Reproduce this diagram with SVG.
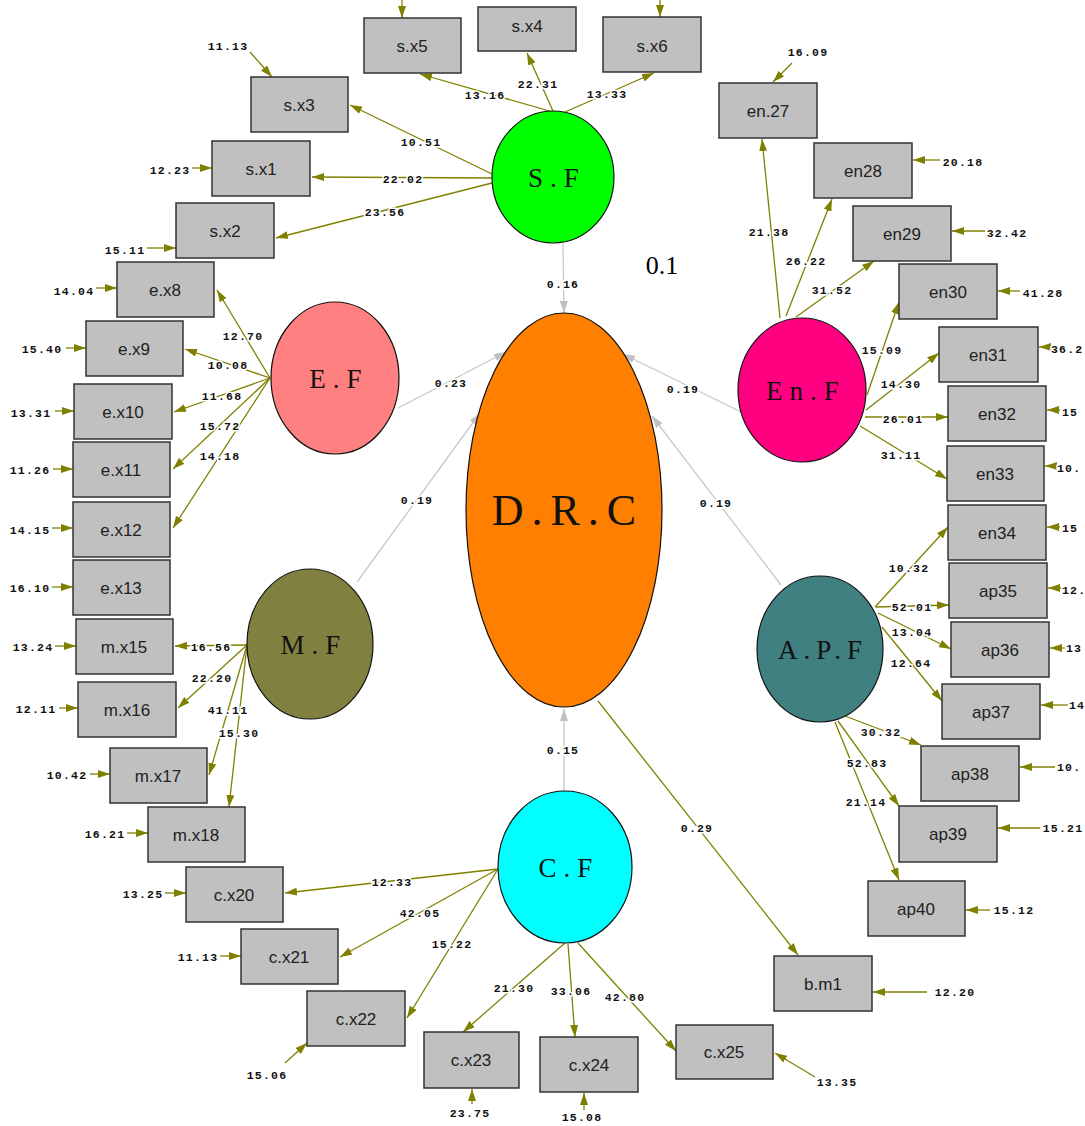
<svg xmlns="http://www.w3.org/2000/svg" width="1085" height="1126" viewBox="0 0 1085 1126">
<style>
.bx{fill:#c0c0c0;stroke:#333;stroke-width:1.5}
.bt{font-family:"Liberation Sans",Arial,sans-serif;font-size:17px;fill:#222;text-anchor:middle}
.lt{font-family:"Liberation Serif","Times New Roman",serif;fill:#111;text-anchor:middle}
.ln{stroke:#808000;stroke-width:1.3;fill:none;marker-end:url(#a)}
.gl{stroke:#c8c8c8;stroke-width:1.3;fill:none;marker-end:url(#g)}
.n{font-family:"Liberation Mono","DejaVu Sans Mono",monospace;font-size:11.5px;font-weight:bold;letter-spacing:1.2px;fill:#111;text-anchor:middle;paint-order:stroke;stroke:#fff;stroke-width:3px}
.ns{text-anchor:start}
.lat{stroke:#111;stroke-width:1.2}
</style>
<defs>
<marker id="a" viewBox="0 0 12 8" refX="12" refY="4" markerWidth="12" markerHeight="8" markerUnits="userSpaceOnUse" orient="auto"><path d="M0,0 L12,4 L0,8 z" fill="#808000"/></marker>
<marker id="g" viewBox="0 0 12 8" refX="12" refY="4" markerWidth="12" markerHeight="8" markerUnits="userSpaceOnUse" orient="auto"><path d="M0,0 L12,4 L0,8 z" fill="#c0c0c0"/></marker>
</defs>
<rect width="1085" height="1126" fill="#fff"/>

<g id="connectors">
<line class="gl" x1="563" y1="243" x2="564" y2="313"/>
<line class="gl" x1="398" y1="408" x2="506" y2="352"/>
<line class="gl" x1="357" y1="582" x2="480" y2="413"/>
<line class="gl" x1="741" y1="412" x2="623" y2="354"/>
<line class="gl" x1="781" y1="585" x2="652" y2="416"/>
<line class="gl" x1="564" y1="792" x2="564" y2="709"/>
<line class="ln" x1="598" y1="701" x2="798" y2="955"/>
<line class="ln" x1="553" y1="112" x2="420" y2="74"/>
<line class="ln" x1="553" y1="111" x2="527" y2="53"/>
<line class="ln" x1="565" y1="112" x2="654" y2="73"/>
<line class="ln" x1="492" y1="174" x2="350" y2="105"/>
<line class="ln" x1="492" y1="178" x2="312" y2="177"/>
<line class="ln" x1="492" y1="183" x2="276" y2="238"/>
<line class="ln" x1="270" y1="378" x2="217" y2="290"/>
<line class="ln" x1="270" y1="378" x2="185" y2="349"/>
<line class="ln" x1="270" y1="378" x2="174" y2="412"/>
<line class="ln" x1="270" y1="378" x2="173" y2="469"/>
<line class="ln" x1="270" y1="378" x2="173" y2="528"/>
<line class="ln" x1="247" y1="645" x2="175" y2="646"/>
<line class="ln" x1="247" y1="645" x2="178" y2="708"/>
<line class="ln" x1="247" y1="645" x2="209" y2="775"/>
<line class="ln" x1="247" y1="645" x2="229" y2="807"/>
<line class="ln" x1="498" y1="869" x2="285" y2="893"/>
<line class="ln" x1="498" y1="869" x2="340" y2="957"/>
<line class="ln" x1="498" y1="869" x2="407" y2="1018"/>
<line class="ln" x1="565" y1="943" x2="463" y2="1032"/>
<line class="ln" x1="568" y1="944" x2="575" y2="1037"/>
<line class="ln" x1="578" y1="943" x2="676" y2="1051"/>
<line class="ln" x1="780" y1="318" x2="762" y2="139"/>
<line class="ln" x1="786" y1="316" x2="832" y2="199"/>
<line class="ln" x1="796" y1="317" x2="874" y2="261"/>
<line class="ln" x1="867" y1="395" x2="899" y2="302"/>
<line class="ln" x1="866" y1="410" x2="939" y2="353"/>
<line class="ln" x1="865" y1="417" x2="948" y2="417"/>
<line class="ln" x1="860" y1="426" x2="947" y2="479"/>
<line class="ln" x1="875" y1="607" x2="948" y2="527"/>
<line class="ln" x1="876" y1="607" x2="949" y2="605"/>
<line class="ln" x1="878" y1="613" x2="951" y2="649"/>
<line class="ln" x1="882" y1="627" x2="942" y2="701"/>
<line class="ln" x1="845" y1="716" x2="921" y2="745"/>
<line class="ln" x1="838" y1="721" x2="899" y2="806"/>
<line class="ln" x1="835" y1="722" x2="899" y2="880"/>
<line class="ln" x1="402" y1="0" x2="402" y2="18"/>
<line class="ln" x1="660" y1="0" x2="660" y2="17"/>
<line class="ln" x1="250" y1="52" x2="272" y2="77"/>
<line class="ln" x1="192" y1="168" x2="212" y2="168"/>
<line class="ln" x1="147" y1="248" x2="176" y2="248"/>
<line class="ln" x1="96" y1="288" x2="117" y2="288"/>
<line class="ln" x1="66" y1="348" x2="86" y2="348"/>
<line class="ln" x1="55" y1="411" x2="74" y2="411"/>
<line class="ln" x1="53" y1="469" x2="73" y2="469"/>
<line class="ln" x1="52" y1="528" x2="73" y2="528"/>
<line class="ln" x1="52" y1="587" x2="73" y2="587"/>
<line class="ln" x1="55" y1="646" x2="76" y2="646"/>
<line class="ln" x1="59" y1="708" x2="78" y2="708"/>
<line class="ln" x1="90" y1="774" x2="110" y2="774"/>
<line class="ln" x1="127" y1="833" x2="148" y2="833"/>
<line class="ln" x1="165" y1="893" x2="186" y2="893"/>
<line class="ln" x1="220" y1="956" x2="241" y2="956"/>
<line class="ln" x1="285" y1="1063" x2="307" y2="1043"/>
<line class="ln" x1="472" y1="1104" x2="472" y2="1089"/>
<line class="ln" x1="584" y1="1110" x2="584" y2="1093"/>
<line class="ln" x1="815" y1="1077" x2="775" y2="1053"/>
<line class="ln" x1="927" y1="992" x2="873" y2="992"/>
<line class="ln" x1="990" y1="910" x2="966" y2="910"/>
<line class="ln" x1="1040" y1="828" x2="998" y2="828"/>
<line class="ln" x1="1055" y1="767" x2="1020" y2="767"/>
<line class="ln" x1="1068" y1="705" x2="1041" y2="705"/>
<line class="ln" x1="1065" y1="648" x2="1050" y2="648"/>
<line class="ln" x1="1061" y1="588" x2="1048" y2="588"/>
<line class="ln" x1="1060" y1="527" x2="1047" y2="527"/>
<line class="ln" x1="1056" y1="466" x2="1045" y2="466"/>
<line class="ln" x1="1060" y1="410" x2="1047" y2="410"/>
<line class="ln" x1="1050" y1="347" x2="1039" y2="347"/>
<line class="ln" x1="1020" y1="291" x2="998" y2="291"/>
<line class="ln" x1="985" y1="231" x2="952" y2="231"/>
<line class="ln" x1="940" y1="160" x2="913" y2="160"/>
<line class="ln" x1="792" y1="63" x2="773" y2="82"/>

<text class="n" x="563" y="288">0.16</text>
<text class="n" x="451" y="387">0.23</text>
<text class="n" x="417" y="504">0.19</text>
<text class="n" x="683" y="393">0.19</text>
<text class="n" x="716" y="507">0.19</text>
<text class="n" x="563" y="754">0.15</text>
<text class="n" x="697" y="832">0.29</text>
<text class="n" x="485" y="99">13.16</text>
<text class="n" x="538" y="88">22.31</text>
<text class="n" x="607" y="98">13.33</text>
<text class="n" x="421" y="146">10.51</text>
<text class="n" x="403" y="183">22.02</text>
<text class="n" x="385" y="216">23.56</text>
<text class="n" x="243" y="340">12.70</text>
<text class="n" x="228" y="369">10.08</text>
<text class="n" x="222" y="400">11.68</text>
<text class="n" x="220" y="430">15.72</text>
<text class="n" x="220" y="460">14.18</text>
<text class="n" x="211" y="651">16.56</text>
<text class="n" x="212" y="682">22.20</text>
<text class="n" x="228" y="714">41.11</text>
<text class="n" x="239" y="737">15.30</text>
<text class="n" x="392" y="886">12.33</text>
<text class="n" x="420" y="917">42.05</text>
<text class="n" x="452" y="948">15.22</text>
<text class="n" x="514" y="992">21.30</text>
<text class="n" x="571" y="995">33.06</text>
<text class="n" x="625" y="1001">42.80</text>
<text class="n" x="769" y="236">21.38</text>
<text class="n" x="806" y="265">26.22</text>
<text class="n" x="832" y="294">31.52</text>
<text class="n" x="882" y="354">15.09</text>
<text class="n" x="901" y="388">14.30</text>
<text class="n" x="903" y="423">26.01</text>
<text class="n" x="901" y="459">31.11</text>
<text class="n" x="909" y="572">10.32</text>
<text class="n" x="912" y="611">52.01</text>
<text class="n" x="912" y="636">13.04</text>
<text class="n" x="911" y="667">12.64</text>
<text class="n" x="881" y="736">30.32</text>
<text class="n" x="867" y="767">52.83</text>
<text class="n" x="866" y="806">21.14</text>
<text class="n" x="228" y="50">11.13</text>
<text class="n" x="170" y="174">12.23</text>
<text class="n" x="125" y="254">15.11</text>
<text class="n" x="74" y="295">14.04</text>
<text class="n" x="42" y="353">15.40</text>
<text class="n" x="31" y="417">13.31</text>
<text class="n" x="30" y="474">11.26</text>
<text class="n" x="30" y="534">14.15</text>
<text class="n" x="30" y="592">16.10</text>
<text class="n" x="33" y="651">13.24</text>
<text class="n" x="36" y="713">12.11</text>
<text class="n" x="67" y="779">10.42</text>
<text class="n" x="105" y="838">16.21</text>
<text class="n" x="143" y="898">13.25</text>
<text class="n" x="198" y="961">11.13</text>
<text class="n" x="267" y="1079">15.06</text>
<text class="n" x="470" y="1117">23.75</text>
<text class="n" x="582" y="1121">15.08</text>
<text class="n" x="837" y="1086">13.35</text>
<text class="n" x="955" y="996">12.20</text>
<text class="n" x="1014" y="914">15.12</text>
<text class="n" x="1063" y="832">15.21</text>
<text class="n" x="808" y="56">16.09</text>
<text class="n" x="963" y="166">20.18</text>
<text class="n" x="1007" y="237">32.42</text>
<text class="n" x="1043" y="297">41.28</text>
<text class="n ns" x="1051" y="353">36.2</text>
<text class="n ns" x="1062" y="416">15</text>
<text class="n ns" x="1057" y="472">10.</text>
<text class="n ns" x="1062" y="532">15</text>
<text class="n ns" x="1062" y="594">12.</text>
<text class="n ns" x="1066" y="652">13</text>
<text class="n ns" x="1069" y="709" letter-spacing="0">14</text>
<text class="n ns" x="1057" y="771">10.</text>
</g>

<g id="DRC"><ellipse cx="564" cy="510" rx="98" ry="197" fill="#ff8000" class="lat"/><text class="lt" x="568" y="525" font-size="44" letter-spacing="8">D.R.C</text></g>
<g id="SF"><ellipse cx="553" cy="177" rx="61" ry="66" fill="#00ff00" class="lat"/><text class="lt" x="557" y="187" font-size="27" letter-spacing="7">S.F</text></g>
<g id="EF"><ellipse cx="335" cy="378" rx="64" ry="76" fill="#ff8080" class="lat"/><text class="lt" x="339" y="388" font-size="27" letter-spacing="7">E.F</text></g>
<g id="MF"><ellipse cx="310" cy="644" rx="63" ry="75" fill="#808040" class="lat"/><text class="lt" x="314" y="654" font-size="27" letter-spacing="7">M.F</text></g>
<g id="CF"><ellipse cx="565" cy="867" rx="67" ry="76" fill="#00ffff" class="lat"/><text class="lt" x="569" y="877" font-size="27" letter-spacing="7">C.F</text></g>
<g id="EnF"><ellipse cx="802" cy="390" rx="64" ry="72" fill="#ff0080" class="lat"/><text class="lt" x="806" y="400" font-size="27" letter-spacing="7">En.F</text></g>
<g id="APF"><ellipse cx="820" cy="649" rx="63" ry="73" fill="#408080" class="lat"/><text class="lt" x="823" y="659" font-size="27" letter-spacing="6">A.P.F</text></g>

<g id="sx5"><rect class="bx" x="364" y="18" width="97" height="55"/><text class="bt" x="412" y="52">s.x5</text></g>
<g id="sx4"><rect class="bx" x="478" y="7" width="98" height="44"/><text class="bt" x="527" y="32">s.x4</text></g>
<g id="sx6"><rect class="bx" x="603" y="17" width="98" height="55"/><text class="bt" x="652" y="52">s.x6</text></g>
<g id="sx3"><rect class="bx" x="251" y="77" width="97" height="55"/><text class="bt" x="299" y="111">s.x3</text></g>
<g id="sx1"><rect class="bx" x="212" y="141" width="98" height="55"/><text class="bt" x="261" y="175">s.x1</text></g>
<g id="sx2"><rect class="bx" x="176" y="203" width="98" height="55"/><text class="bt" x="225" y="237">s.x2</text></g>
<g id="ex8"><rect class="bx" x="117" y="262" width="97" height="55"/><text class="bt" x="165" y="296">e.x8</text></g>
<g id="ex9"><rect class="bx" x="86" y="321" width="97" height="55"/><text class="bt" x="134" y="355">e.x9</text></g>
<g id="ex10"><rect class="bx" x="74" y="384" width="98" height="55"/><text class="bt" x="123" y="418">e.x10</text></g>
<g id="ex11"><rect class="bx" x="73" y="442" width="97" height="55"/><text class="bt" x="121" y="476">e.x11</text></g>
<g id="ex12"><rect class="bx" x="73" y="502" width="97" height="55"/><text class="bt" x="121" y="536">e.x12</text></g>
<g id="ex13"><rect class="bx" x="73" y="560" width="97" height="55"/><text class="bt" x="121" y="594">e.x13</text></g>
<g id="mx15"><rect class="bx" x="76" y="619" width="97" height="55"/><text class="bt" x="124" y="653">m.x15</text></g>
<g id="mx16"><rect class="bx" x="78" y="682" width="98" height="55"/><text class="bt" x="127" y="716">m.x16</text></g>
<g id="mx17"><rect class="bx" x="110" y="748" width="97" height="55"/><text class="bt" x="158" y="782">m.x17</text></g>
<g id="mx18"><rect class="bx" x="148" y="807" width="97" height="55"/><text class="bt" x="196" y="841">m.x18</text></g>
<g id="cx20"><rect class="bx" x="186" y="867" width="97" height="55"/><text class="bt" x="234" y="901">c.x20</text></g>
<g id="cx21"><rect class="bx" x="241" y="929" width="97" height="55"/><text class="bt" x="289" y="963">c.x21</text></g>
<g id="cx22"><rect class="bx" x="307" y="991" width="98" height="55"/><text class="bt" x="356" y="1025">c.x22</text></g>
<g id="cx23"><rect class="bx" x="424" y="1032" width="95" height="56"/><text class="bt" x="471" y="1066">c.x23</text></g>
<g id="cx24"><rect class="bx" x="540" y="1037" width="98" height="55"/><text class="bt" x="589" y="1071">c.x24</text></g>
<g id="cx25"><rect class="bx" x="676" y="1025" width="97" height="54"/><text class="bt" x="724" y="1058">c.x25</text></g>
<g id="bm1"><rect class="bx" x="774" y="956" width="98" height="55"/><text class="bt" x="823" y="990">b.m1</text></g>
<g id="ap40"><rect class="bx" x="868" y="881" width="97" height="55"/><text class="bt" x="916" y="915">ap40</text></g>
<g id="ap39"><rect class="bx" x="899" y="806" width="98" height="56"/><text class="bt" x="948" y="840">ap39</text></g>
<g id="ap38"><rect class="bx" x="921" y="746" width="98" height="55"/><text class="bt" x="970" y="780">ap38</text></g>
<g id="ap37"><rect class="bx" x="942" y="684" width="98" height="55"/><text class="bt" x="991" y="718">ap37</text></g>
<g id="ap36"><rect class="bx" x="951" y="622" width="98" height="55"/><text class="bt" x="1000" y="656">ap36</text></g>
<g id="ap35"><rect class="bx" x="949" y="563" width="98" height="55"/><text class="bt" x="998" y="597">ap35</text></g>
<g id="en34"><rect class="bx" x="948" y="505" width="98" height="55"/><text class="bt" x="997" y="539">en34</text></g>
<g id="en33"><rect class="bx" x="947" y="446" width="97" height="55"/><text class="bt" x="995" y="480">en33</text></g>
<g id="en32"><rect class="bx" x="948" y="386" width="98" height="55"/><text class="bt" x="997" y="420">en32</text></g>
<g id="en31"><rect class="bx" x="939" y="327" width="99" height="55"/><text class="bt" x="988" y="361">en31</text></g>
<g id="en30"><rect class="bx" x="899" y="264" width="98" height="55"/><text class="bt" x="948" y="298">en30</text></g>
<g id="en29"><rect class="bx" x="853" y="206" width="98" height="55"/><text class="bt" x="902" y="240">en29</text></g>
<g id="en28"><rect class="bx" x="814" y="143" width="98" height="55"/><text class="bt" x="863" y="177">en28</text></g>
<g id="en27"><rect class="bx" x="719" y="83" width="98" height="55"/><text class="bt" x="768" y="117">en.27</text></g>

<text x="662" y="274" font-family="Liberation Serif,Times New Roman,serif" font-size="26" text-anchor="middle" fill="#000">0.1</text>
</svg>
